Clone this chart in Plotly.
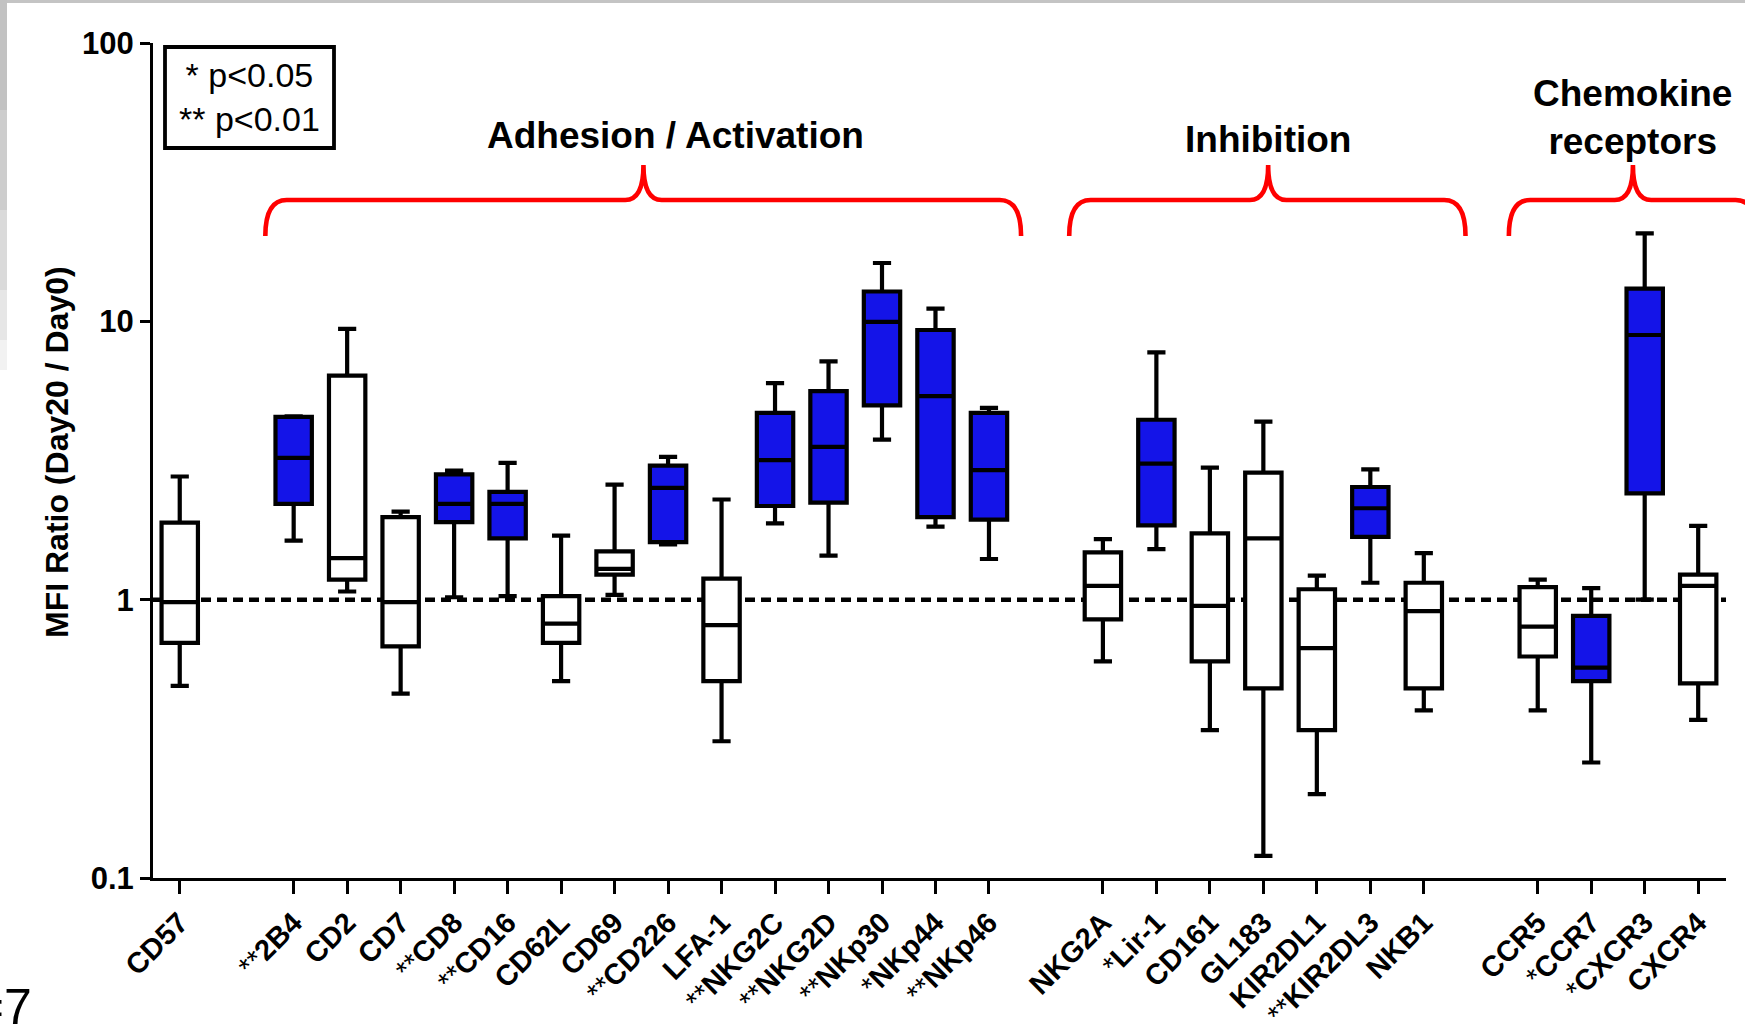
import plotly.graph_objects as go

# ---------------- data ----------------
markers = ["CD57",
           "2B4", "CD2", "CD7", "CD8", "CD16", "CD62L", "CD69", "CD226", "LFA-1",
           "NKG2C", "NKG2D", "NKp30", "NKp44", "NKp46",
           "NKG2A", "Lir-1", "CD161", "GL183", "KIR2DL1", "KIR2DL3", "NKB1",
           "CCR5", "CCR7", "CXCR3", "CXCR4"]
stars = ["",
         "**", "", "", "**", "**", "", "", "**", "",
         "**", "**", "**", "*", "**",
         "", "*", "", "", "", "**", "",
         "", "*", "*", ""]
group_of = [0,
            1, 1, 1, 1, 1, 1, 1, 1, 1, 1, 1, 1, 1, 1,
            2, 2, 2, 2, 2, 2, 2,
            3, 3, 3, 3]
lower = [0.49,
         1.63, 1.07, 0.46, 1.02, 1.03, 0.51, 1.04, 1.58, 0.31, 1.88, 1.44, 3.76, 1.83, 1.40,
         0.60, 1.52, 0.34, 0.12, 0.20, 1.15, 0.40,
         0.40, 0.26, 1.00, 0.37]
q1 = [0.70,
      2.21, 1.18, 0.68, 1.90, 1.66, 0.70, 1.23, 1.61, 0.51, 2.17, 2.23, 4.99, 1.98, 1.94,
      0.85, 1.85, 0.60, 0.48, 0.34, 1.68, 0.48,
      0.625, 0.51, 2.41, 0.50]
median = [0.98,
          3.23, 1.41, 0.98, 2.21, 2.21, 0.82, 1.29, 2.52, 0.81, 3.17, 3.54, 9.95, 5.39, 2.92,
          1.12, 3.08, 0.95, 1.66, 0.67, 2.13, 0.91,
          0.80, 0.57, 8.93, 1.12]
q3 = [1.89,
      4.54, 6.38, 1.98, 2.82, 2.44, 1.03, 1.49, 3.03, 1.19, 4.69, 5.61, 12.8, 9.31, 4.69,
      1.48, 4.43, 1.73, 2.86, 1.09, 2.54, 1.15,
      1.11, 0.875, 13.1, 1.23]
upper = [2.77,
         4.56, 9.40, 2.07, 2.91, 3.10, 1.70, 2.59, 3.26, 2.29, 6.00, 7.18, 16.2, 11.1, 4.89,
         1.65, 7.74, 2.98, 4.36, 1.22, 2.94, 1.47,
         1.18, 1.10, 20.7, 1.84]
highlight = [False,
             True, False, False, True, True, False, False, True, False, True, True, True, True, True,
             False, True, False, False, False, True, False,
             False, True, True, False]

group_titles = ["Adhesion / Activation", "Inhibition", "Chemokine<br>receptors"]
y_ticks = [0.1, 1, 10, 100]
y_tick_labels = ["0.1", "1", "10", "100"]

# ---------------- layout geometry ----------------
W, H = 1745, 1029
ML, MR, MT, MB = 153, 19, 43, 151
PW, PH = W - ML - MR, H - MT - MB
GAP = 2.13
pos = [i + (GAP - 1) * g for i, g in enumerate(group_of)]
X0, X1 = -0.5, pos[-1] + 0.52

BLUE = "#1414E8"
FONT = "Liberation Sans"


def pxx(px):
    return (px - ML) / PW


def pxy(py):
    return (H - MB - py) / PH


def dx(d):
    return (d - X0) / (X1 - X0)


fig = go.Figure()

for flag, fill in [(False, "white"), (True, BLUE)]:
    idx = [i for i, h in enumerate(highlight) if h == flag]
    fig.add_trace(go.Box(
        x=[pos[i] for i in idx],
        q1=[q1[i] for i in idx],
        median=[median[i] for i in idx],
        q3=[q3[i] for i in idx],
        lowerfence=[lower[i] for i in idx],
        upperfence=[upper[i] for i in idx],
        boxpoints=False,
        width=0.68,
        whiskerwidth=0.5,
        fillcolor=fill,
        line=dict(color="black", width=4.2),
        showlegend=False,
        hoverinfo="skip",
    ))

shapes = []
# reference line at ratio 1
shapes.append(dict(type="line", xref="paper", x0=0, x1=1, yref="y", y0=1, y1=1,
                   line=dict(color="black", width=4.5, dash="10px,6px"), layer="below"))
# legend box
shapes.append(dict(type="rect", xref="paper", yref="paper",
                   x0=pxx(165), x1=pxx(334), y0=pxy(148), y1=pxy(47),
                   line=dict(color="black", width=3.8), fillcolor="white"))

# braces
first_last = []
for g in (1, 2, 3):
    ps = [p for p, gg in zip(pos, group_of) if gg == g]
    first_last.append((ps[0], ps[-1]))
brace_spans = [
    (first_last[0][0] - 0.53, first_last[0][1] + 0.60, 8.67),
    (first_last[1][0] - 0.63, first_last[1][1] + 0.78, 20.35),
    (first_last[2][0] - 0.54, first_last[2][1] + 1.10, 27.17),
]
yE, yHl, yP = pxy(236), pxy(200), pxy(165)
rx = 0.40 / (X1 - X0)
cx = 0.34 / (X1 - X0)
for l, r, m in brace_spans:
    xl, xr, xm = dx(l), dx(r), dx(m)
    path = (f"M {xl},{yE} Q {xl},{yHl} {xl + rx},{yHl} L {xm - cx},{yHl} "
            f"Q {xm},{yHl} {xm},{yP} Q {xm},{yHl} {xm + cx},{yHl} "
            f"L {xr - rx},{yHl} Q {xr},{yHl} {xr},{yE}")
    shapes.append(dict(type="path", xref="paper", yref="paper", path=path,
                       line=dict(color="#FF0000", width=4.6)))

# grey frame remnants of the slide
shapes.append(dict(type="rect", xref="paper", yref="paper", x0=pxx(0), x1=pxx(W),
                   y0=pxy(3), y1=pxy(0), line=dict(width=0), fillcolor="#c4c4c4", layer="below"))
for (ya, yb, col) in [(0, 110, "#c2c2c2"), (110, 210, "#cdcdcd"), (210, 290, "#dadada"),
                      (290, 340, "#e6e6e6"), (340, 370, "#f2f2f2")]:
    shapes.append(dict(type="rect", xref="paper", yref="paper", x0=pxx(0), x1=pxx(7),
                       y0=pxy(yb), y1=pxy(ya), line=dict(width=0), fillcolor=col, layer="below"))

annotations = []
annotations.append(dict(text="<b>MFI Ratio (Day20 / Day0)</b>", textangle=-90,
                        xref="paper", yref="paper", x=pxx(57), y=pxy(452),
                        xanchor="center", yanchor="middle",
                        showarrow=False, font=dict(size=32, color="black", family=FONT)))
annotations.append(dict(text="* p<0.05<br>** p<0.01", xref="paper", yref="paper",
                        x=pxx(249), y=pxy(97), xanchor="center", yanchor="middle",
                        showarrow=False, align="center",
                        font=dict(size=34, color="black", family=FONT)))
label_pos = [(9.26, 135), (20.35, 140), (27.17, 117)]
for t, (lx, ly) in zip(group_titles, label_pos):
    annotations.append(dict(text=f"<b>{t}</b>", xref="x", yref="paper", x=lx, y=pxy(ly),
                            xanchor="center", yanchor="middle",
                            showarrow=False, align="center",
                            font=dict(size=37, color="black", family=FONT)))
annotations.append(dict(text="n=7", xref="paper", yref="paper", x=pxx(34), y=pxy(1007),
                        xanchor="right", yanchor="middle", showarrow=False,
                        font=dict(size=50, color="black", family=FONT)))

fig.update_layout(
    template="none",
    width=W, height=H,
    margin=dict(l=ML, r=MR, t=MT, b=MB, pad=0),
    paper_bgcolor="white", plot_bgcolor="white",
    font=dict(family=FONT, color="black"),
    boxmode="overlay",
    shapes=shapes,
    annotations=annotations,
    xaxis=dict(range=[X0, X1], tickmode="array", tickvals=pos,
               ticktext=[f"{s}<b>{m}</b>" for s, m in zip(stars, markers)],
               tickangle=-45, tickfont=dict(size=29, color="black", family=FONT),
               ticks="outside", ticklen=13, tickwidth=3, tickcolor="black",
               showline=True, linewidth=3, linecolor="black",
               showgrid=False, zeroline=False, automargin=False),
    yaxis=dict(type="log", range=[-1, 2], tickmode="array", tickvals=y_ticks,
               ticktext=[f"<b>{t}</b>" for t in y_tick_labels],
               tickfont=dict(size=31, color="black", family=FONT),
               ticks="outside", ticklen=10, tickwidth=3, tickcolor="black",
               showline=True, linewidth=3, linecolor="black",
               showgrid=False, zeroline=False, automargin=False),
)

fig.write_html("out.html",
               config={"displayModeBar": False},
               post_script="document.body.style.margin='0px';document.body.style.overflow='hidden';")
